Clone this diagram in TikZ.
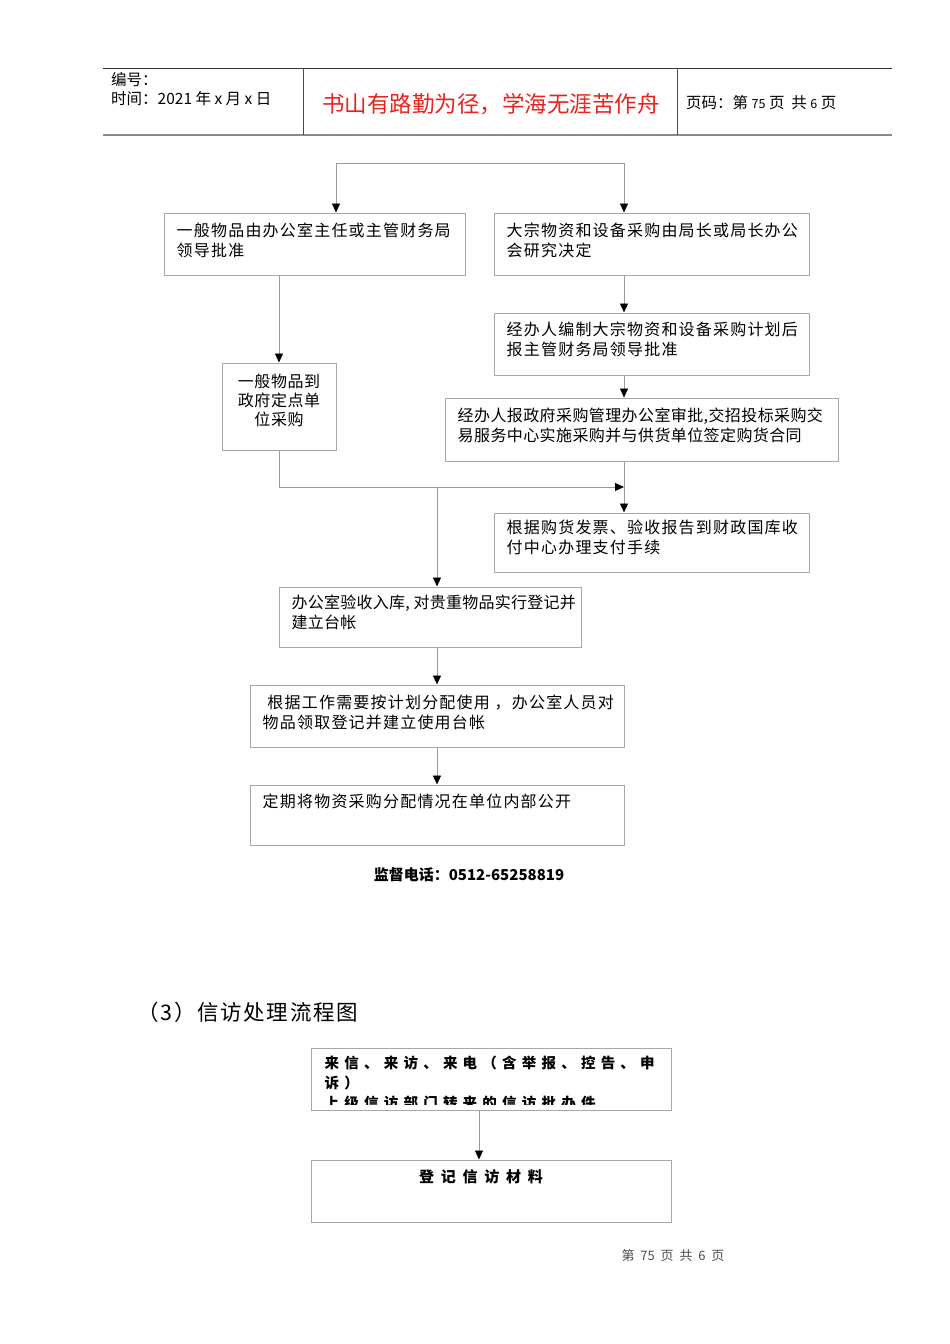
\documentclass[tikz,border=0pt]{standalone}
\usepackage{fontspec}
\setmainfont{Noto Sans CJK SC}
\usetikzlibrary{arrows.meta,calc}
\definecolor{boxgray}{HTML}{A8A8A8}
\definecolor{linegray}{HTML}{9A9A9A}
\definecolor{titlered}{HTML}{E8231B}
\newcommand{\boxfont}{\fontsize{16}{19.8}\selectfont\addfontfeature{LetterSpace=7.5}}
\begin{document}
\begin{tikzpicture}[x=1pt,y=-1pt,
  box/.style={draw=boxgray, line width=1pt, rectangle, inner sep=0pt},
  txt/.style={anchor=north west, inner sep=0pt, align=left, font=\boxfont},
  conn/.style={draw=linegray, line width=0.9pt},
  arr/.style={conn, -{Triangle[length=9pt,width=8pt,color=black,fill=black]}},
  hdr/.style={inner sep=0pt, font=\fontsize{15.5}{18}\selectfont}]
\useasboundingbox (0,0) rectangle (950,1344);
% header
\draw[line width=0.9pt, black!80] (103,68) -- (892,68);
\draw[line width=1.8pt, black!45] (103,135) -- (892,135);
\draw[line width=0.9pt, black!70] (303,68) -- (303,135);
\draw[line width=0.9pt, black!70] (677,68) -- (677,135);
\node[hdr, anchor=west] (h1) at (111,80) {编号：};
\node[hdr, anchor=west] (h2) at (111,99) {时间：2021\ 年\ x\ 月\ x\ 日};
\node[inner sep=0pt, text=titlered, font=\fontsize{22.5}{24}\selectfont] (h3) at (491,104) {书山有路勤为径，学海无涯苦作舟};
\node[hdr, anchor=west] (h4) at (686,103) {页码：第\ {\fontsize{12.5}{14}\selectfont 75}\ 页\ \ 共\ {\fontsize{12.5}{14}\selectfont 6}\ 页};
% boxes
\node[box, minimum width=301pt, minimum height=62pt] (b1) at (314.5,244) {};
\node[box, minimum width=315pt, minimum height=62pt] (b2) at (651.5,244) {};
\node[box, minimum width=315pt, minimum height=62pt] (b3) at (651.5,344) {};
\node[box, minimum width=393pt, minimum height=63pt] (b4) at (641.5,429.5) {};
\node[box, minimum width=114pt, minimum height=87pt] (b5) at (279,406.5) {};
\node[box, minimum width=315pt, minimum height=59pt] (b6) at (651.5,542.5) {};
\node[box, minimum width=302pt, minimum height=60pt] (b7) at (430,617) {};
\node[box, minimum width=374pt, minimum height=62pt] (b8) at (437,716) {};
\node[box, minimum width=374pt, minimum height=60pt] (b9) at (437,815) {};
\node[box, minimum width=360pt, minimum height=62pt] (b10) at (491,1079) {};
\node[box, minimum width=360pt, minimum height=62pt] (b11) at (491,1191) {};
% texts
\node[txt] (t1) at ($(b1.north west)+(13,10)$) {一般物品由办公室主任或主管财务局\\领导批准};
\node[txt] (t2) at ($(b2.north west)+(13,10)$) {大宗物资和设备采购由局长或局长办公\\会研究决定};
\node[txt] (t3) at ($(b3.north west)+(13,9)$) {经办人编制大宗物资和设备采购计划后\\报主管财务局领导批准};
\node[txt, font=\fontsize{16}{19.8}\selectfont\addfontfeature{LetterSpace=2.5}] (t4) at ($(b4.north west)+(13,10)$) {经办人报政府采购管理办公室审批,交招投标采购交\\易服务中心实施采购并与供货单位签定购货合同};
\node[txt, anchor=north, align=center, font=\fontsize{16}{19.3}\selectfont\addfontfeature{LetterSpace=3.5}] (t5) at ($(b5.north)+(0,11)$) {一般物品到\\政府定点单\\位采购};
\node[txt] (t6) at ($(b6.north west)+(13,7)$) {根据购货发票、验收报告到财政国库收\\付中心办理支付手续};
\node[txt, font=\fontsize{16}{19.8}\selectfont\addfontfeature{LetterSpace=1.5}] (t7) at ($(b7.north west)+(13,8)$) {办公室验收入库, 对贵重物品实行登记并\\建立台帐};
\node[txt] (t8) at ($(b8.north west)+(13,10)$) {\ 根据工作需要按计划分配使用 ，办公室人员对\\物品领取登记并建立使用台帐};
\node[txt] (t9) at ($(b9.north west)+(13,9)$) {定期将物资采购分配情况在单位内部公开};
\begin{scope}
\clip (311,1048) rectangle (671,1104);
\node[txt, font=\fontsize{14.5}{20}\selectfont\bfseries\addfontfeature{LetterSpace=36}] (t10) at ($(b10.north west)+(14,8)$) {来信、来访、来电（含举报、控告、申\\诉）\\上级信访部门转来的信访批办件};
\end{scope}
\node[inner sep=0pt, font=\fontsize{15}{18}\selectfont\bfseries\addfontfeature{LetterSpace=45}] (t11) at (481,1177) {登记信访材料};
% other texts
\node[inner sep=0pt, font=\fontsize{15}{18}\selectfont\bfseries] (tel) at (469,875) {监督电话：0512-65258819};
\node[inner sep=0pt, anchor=west, font=\fontsize{21.5}{24}\selectfont\addfontfeature{LetterSpace=8}] (sec) at (137,1012) {（3）信访处理流程图};
\node[inner sep=0pt, text=black!70, font=\fontsize{13}{14}\selectfont] (foot) at (673,1256) {第\ \ 75\ \ 页\ \ 共\ \ 6\ \ 页};
% connectors
\coordinate (c1) at (336,163);
\coordinate (c2) at (624,163);
\coordinate (j1) at (624,487);
\coordinate (j2) at (437,487);
\coordinate (c3) at (479,1110);
\draw[conn] (c1) -- (c2);
\draw[arr] (c1) -- (b1.north -| c1);
\draw[arr] (c2) -- (b2.north -| c2);
\draw[arr] (b1.south -| b5.north) -- (b5.north);
\draw[arr] (b2.south -| c2) -- (b3.north -| c2);
\draw[arr] (b3.south -| c2) -- (b4.north -| c2);
\draw[arr] (b4.south -| c2) -- (b6.north -| c2);
\draw[arr] (b5.south) |- (j1);
\draw[arr] (j2) -- (b7.north -| j2);
\draw[arr] (b7.south -| b8.north) -- (b8.north);
\draw[arr] (b8.south) -- (b9.north);
\draw[arr] (c3) -- (b11.north -| c3);
\end{tikzpicture}
\end{document}
